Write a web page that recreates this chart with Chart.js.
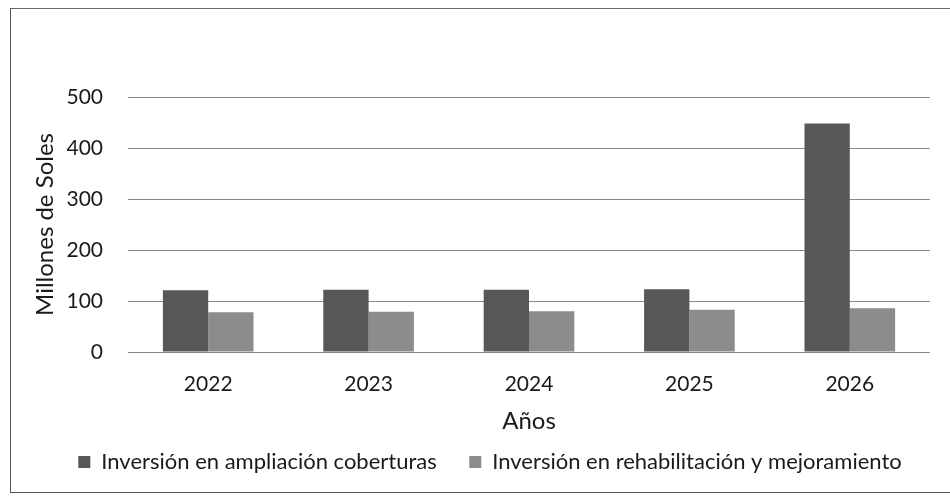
<!DOCTYPE html>
<html>
<head>
<meta charset="utf-8">
<script src="https://cdn.jsdelivr.net/npm/chart.js@4"></script>
<style>
  html, body { margin: 0; padding: 0; background: #fff; }
  #wrap { position: relative; width: 950px; height: 497px; }
  #frame {
    position: absolute; left: 10px; top: 8px; width: 960px; height: 483px;
    border-left: 1px solid #555; border-top: 1px solid #666; border-bottom: 1px solid #555;
  }
  canvas { position: absolute; left: 0; top: 0; }
</style>
</head>
<body>
<div id="wrap">
  <div id="frame"></div>
  <canvas id="chart" width="950" height="497"></canvas>
</div>
<script>
const years = ["2022", "2023", "2024", "2025", "2026"];
const ampliacion = [121, 122, 122, 123, 448];
const rehabilitacion = [78, 79, 80, 83, 86];
const seriesNames = ["Inversión en ampliación coberturas", "Inversión en rehabilitación y mejoramiento"];
const yTicks = [0, 100, 200, 300, 400, 500];

const fontFamily = "Lato, 'Open Sans', sans-serif";
const textColor = "#1a1a1a";

// nudge the legend to the right, the original is not centred on the canvas
const shiftLegend = {
  id: "shiftLegend",
  afterLayout(chart) {
    chart.legend.left += 25;
    chart.legend.right += 25;
  },
};

const ctx = document.getElementById("chart").getContext("2d");
new Chart(ctx, {
  type: "bar",
  data: {
    labels: years,
    datasets: [
      {
        label: seriesNames[0],
        data: ampliacion,
        backgroundColor: "#575757",
        barPercentage: 1,
        categoryPercentage: 0.565,
      },
      {
        label: seriesNames[1],
        data: rehabilitacion,
        backgroundColor: "#8c8c8c",
        barPercentage: 1,
        categoryPercentage: 0.565,
      },
    ],
  },
  plugins: [shiftLegend],
  options: {
    responsive: false,
    animation: false,
    layout: { padding: { top: 97, right: 20, left: 0, bottom: 14 } },
    plugins: {
      tooltip: { enabled: false },
      legend: {
        position: "bottom",
        labels: {
          color: textColor,
          font: { family: fontFamily, size: 22 },
          boxWidth: 12,
          boxHeight: 12,
          padding: 10,
          generateLabels: (chart) => {
            const items = Chart.defaults.plugins.legend.labels.generateLabels(chart);
            items[0].text += "    ";
            return items;
          },
        },
      },
    },
    scales: {
      x: {
        afterFit: (scale) => {
          scale.height = 89;
        },
        grid: { display: false, drawTicks: false },
        border: { display: false },
        ticks: { color: textColor, font: { family: fontFamily, size: 21 }, padding: 20 },
        title: {
          display: true,
          text: "Años",
          color: textColor,
          font: { family: fontFamily, size: 24 },
          padding: { top: 0, bottom: 5 },
        },
      },
      y: {
        min: 0,
        max: 500,
        afterBuildTicks: (scale) => {
          scale.ticks = yTicks.map((v) => ({ value: v }));
        },
        afterFit: (scale) => {
          scale.width = 128;
        },
        grid: { color: "#8a8a8a", lineWidth: 1, drawTicks: false },
        border: { display: false },
        ticks: { color: textColor, font: { family: fontFamily, size: 21 }, padding: 25 },
        title: {
          display: true,
          text: "Millones de Soles",
          color: textColor,
          font: { family: fontFamily, size: 24 },
          padding: { top: 31, bottom: 0 },
        },
      },
    },
  },
});
</script>
</body>
</html>
